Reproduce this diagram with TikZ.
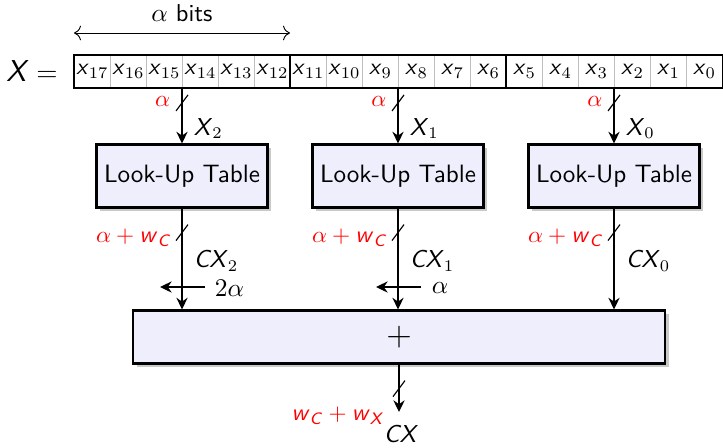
\documentclass[tikz,border=0pt]{standalone}
\usepackage{amstext}
\usetikzlibrary{arrows.meta,shadows,calc}
\definecolor{boxfill}{RGB}{238,238,252}
% sans italic variable names
\newcommand\mv[1]{\textsf{\textit{#1}}}
\begin{document}
\begin{tikzpicture}[x=0.43pt,y=-0.43pt,font=\sffamily,
  cell/.style={draw=black!25,line width=0.4pt,inner sep=0pt,
    minimum width=15.48pt,minimum height=13.76pt,anchor=north west},
  lut/.style={draw,line width=0.9pt,fill=boxfill,inner sep=0pt,
    minimum width=73.5pt,minimum height=27.1pt,font=\sffamily\fontsize{10.8}{13}\selectfont,
    drop shadow={shadow xshift=1.6pt,shadow yshift=-1.6pt,fill=black!30,opacity=0.7}},
  adder/.style={draw,line width=0.9pt,fill=boxfill,inner sep=0pt,
    minimum width=228.8pt,minimum height=22.8pt,font=\Large,
    drop shadow={shadow xshift=1.6pt,shadow yshift=-1.6pt,fill=black!30,opacity=0.7}},
  conn/.style={line width=0.95pt,-{Stealth[length=5pt,width=4.8pt]}},
  busmark/.style={line width=0.5pt},
  buslabel/.style={red,anchor=east,inner sep=1pt,font=\sffamily\fontsize{10.2}{12}\selectfont},
  sig/.style={anchor=west,inner sep=1pt,font=\sffamily\fontsize{10.5}{12}\selectfont}]
\useasboundingbox (0,0) rectangle (723,447);

% register cells x17 ... x0
\foreach \i in {0,...,17}{
  \pgfmathtruncatemacro\k{17-\i}
  \node[cell] (c\k) at ({74+36*\i},55) {$\mv{x}_{\k}$};
}
\draw[line width=0.9pt] (c17.north west) rectangle (c0.south east);
\draw[line width=0.9pt] (c11.north west) -- (c11.south west);
\draw[line width=0.9pt] (c5.north west) -- (c5.south west);

\node[font=\sffamily\fontsize{13}{15}\selectfont] (xeq) at (32,71) {$\mv{X}=$};

% width of one digit group
\coordinate (bl) at (74,33);
\coordinate (br) at (290,33);
\draw[{To[length=3pt]}-{To[length=3pt]},line width=0.4pt] (bl) -- (br)
  node[midway,above=1.5pt,font=\sffamily\fontsize{10.5}{12}\selectfont] {$\alpha$ bits};

% look-up tables
\node[lut] (lut2) at (182,176) {Look-Up Table};
\node[lut] (lut1) at (398,176) {Look-Up Table};
\node[lut] (lut0) at (614,176) {Look-Up Table};

% adder
\node[adder] (add) at (399,337) {$+$};

% register slices into the tables
\foreach \c/\l/\n in {c14/lut2/2,c8/lut1/1,c2/lut0/0}{
  \draw[conn] (\c.south west) -- (\l.north);
  \draw[busmark] ($(\c.south west)+(-6,23)$) -- ($(\c.south west)+(6,7)$);
  \node[buslabel] at ($(\c.south west)+(-9,14)$) {$\alpha$};
  \node[sig] at ($(\l.north)+(9,-15)$) {$\mv{X}_{\n}$};
}

% table outputs into the adder
\foreach \l/\n in {lut2/2,lut1/1,lut0/0}{
  \draw[conn] (\l.south) -- (\l.south |- add.north);
  \draw[busmark] ($(\l.south)+(-6,32)$) -- ($(\l.south)+(6,16)$);
  \node[buslabel] at ($(\l.south)+(-8,29)$) {$\alpha+\mv{w}_{\mv{C}}$};
  \node[sig] at ($(\l.south)+(9,52)$) {$\mv{CX}_{\n}$};
}

% shifts
\coordinate (s2a) at (205,287);
\coordinate (s2b) at (160,287);
\draw[conn] (s2a) -- (s2b);
\node[sig] at ($(s2a)+(7,1)$) {$2\alpha$};
\coordinate (s1a) at (421,287);
\coordinate (s1b) at (376,287);
\draw[conn] (s1a) -- (s1b);
\node[sig] at ($(s1a)+(8,1)$) {$\alpha$};

% result
\coordinate (out) at (399,412);
\draw[conn] (add.south) -- (out);
\draw[busmark] ($(add.south)+(-6,32)$) -- ($(add.south)+(6,16)$);
\node[buslabel] at ($(out)+(-12,4)$) {$\mv{w}_{\mv{C}}+\mv{w}_{\mv{X}}$};
\node[font=\sffamily\fontsize{10.5}{12}\selectfont] (cx) at ($(out)+(2,22)$) {$\mv{CX}$};
\end{tikzpicture}
\end{document}
